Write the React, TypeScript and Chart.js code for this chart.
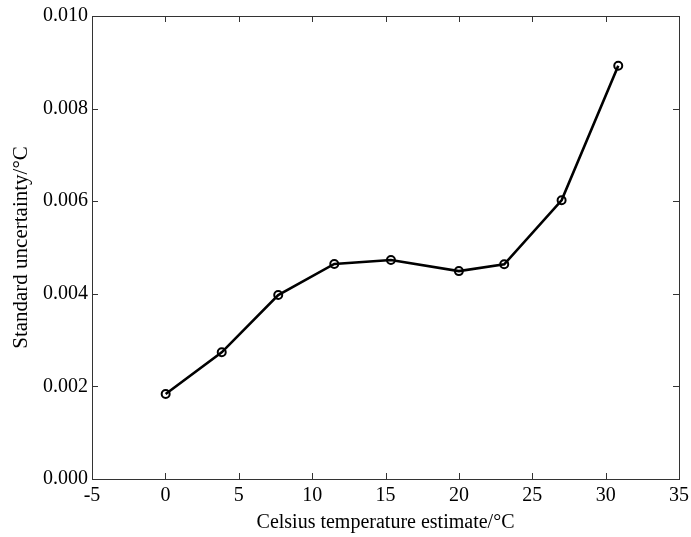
import React, { useEffect, useRef } from "react";
import { Chart, registerables } from "chart.js";

Chart.register(...registerables);

const temperatures: number[] = [0.02, 3.84, 7.69, 11.51, 15.37, 20.0, 23.09, 27.0, 30.86];
const uncertainties: number[] = [0.001836, 0.002736, 0.003974, 0.004644, 0.00473, 0.00449, 0.004637, 0.00602, 0.008927];
const xTickValues: number[] = [-5, 0, 5, 10, 15, 20, 25, 30, 35];
const yTickValues: number[] = [0, 0.002, 0.004, 0.006, 0.008, 0.01];
const xTitle = "Celsius temperature estimate/°C";
const yTitle = "Standard uncertainty/°C";

const FONT = "'Liberation Serif', 'Times New Roman', serif";

const boxTicksPlugin = {
  id: "boxTicks",
  afterDraw(chart: any) {
    const { ctx, chartArea } = chart;
    const { left, right, top, bottom } = chartArea;
    const xs = chart.scales.x;
    const ys = chart.scales.y;
    const len = 6;
    ctx.save();
    ctx.strokeStyle = "#333";
    ctx.lineWidth = 1;
    ctx.beginPath();
    xTickValues.forEach((v) => {
      const px = Math.round(xs.getPixelForValue(v)) + 0.5;
      ctx.moveTo(px, bottom);
      ctx.lineTo(px, bottom - len);
      ctx.moveTo(px, top);
      ctx.lineTo(px, top + len);
    });
    yTickValues.forEach((v) => {
      const py = Math.round(ys.getPixelForValue(v)) + 0.5;
      ctx.moveTo(left, py);
      ctx.lineTo(left + len, py);
      ctx.moveTo(right, py);
      ctx.lineTo(right - len, py);
    });
    ctx.stroke();
    ctx.strokeRect(Math.round(left) + 0.5, Math.round(top) + 0.5, Math.round(right - left), Math.round(bottom - top));
    ctx.restore();
  },
};

export default function App() {
  const canvasRef = useRef<HTMLCanvasElement | null>(null);

  useEffect(() => {
    document.body.style.margin = "0";
    const canvas = canvasRef.current;
    if (!canvas) return;
    const chart = new Chart(canvas, {
      type: "line",
      data: {
        datasets: [
          {
            data: temperatures.map((t, i) => ({ x: t, y: uncertainties[i] })),
            borderColor: "#000",
            borderWidth: 2.6,
            pointRadius: 4,
            pointBorderWidth: 2,
            pointBackgroundColor: "rgba(255,255,255,0)",
            pointBorderColor: "#000",
            tension: 0,
            fill: false,
          },
        ],
      },
      plugins: [boxTicksPlugin],
      options: {
        animation: false,
        responsive: false,
        maintainAspectRatio: false,
        devicePixelRatio: 1,
        layout: { padding: { left: 0, right: 12, top: 16, bottom: 0 } },
        plugins: { legend: { display: false }, tooltip: { enabled: false } },
        scales: {
          x: {
            type: "linear",
            min: -5,
            max: 35,
            afterBuildTicks: (scale: any) => {
              scale.ticks = xTickValues.map((v) => ({ value: v }));
            },
            afterFit: (scale: any) => {
              scale.height = 58;
              scale.paddingLeft = 0;
              scale.paddingRight = 0;
            },
            grid: { display: false, drawTicks: false },
            border: { display: false },
            ticks: {
              color: "#000",
              font: { family: FONT, size: 20 },
              padding: 5,
              maxRotation: 0,
              autoSkip: false,
              callback: (v: any) => String(v),
            },
            title: {
              display: true,
              text: xTitle,
              color: "#000",
              font: { family: FONT, size: 20 },
              padding: { top: 0, bottom: 2 },
            },
          },
          y: {
            type: "linear",
            min: 0,
            max: 0.01,
            afterBuildTicks: (scale: any) => {
              scale.ticks = yTickValues.map((v) => ({ value: v }));
            },
            afterFit: (scale: any) => {
              scale.width = 92;
              scale.paddingTop = 0;
              scale.paddingBottom = 0;
            },
            grid: { display: false, drawTicks: false },
            border: { display: false },
            ticks: {
              color: "#000",
              font: { family: FONT, size: 20 },
              padding: 4,
              autoSkip: false,
              callback: (v: any) => Number(v).toFixed(3),
            },
            title: {
              display: true,
              text: yTitle,
              color: "#000",
              font: { family: FONT, size: 21 },
              padding: { top: 9, bottom: 0 },
            },
          },
        },
      },
    } as any);
    return () => chart.destroy();
  }, []);

  return (
    <div style={{ position: "absolute", left: 0, top: 0, width: 691, height: 537, background: "#fff" }}>
      <canvas ref={canvasRef} width={691} height={537} style={{ width: 691, height: 537 }} />
    </div>
  );
}
